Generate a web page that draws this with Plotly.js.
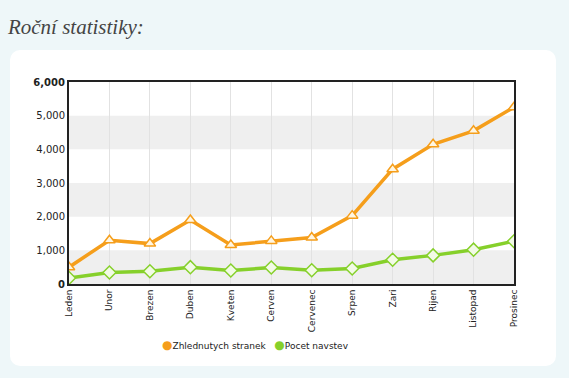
<!DOCTYPE html>
<html><head><meta charset="utf-8">
<script src="https://cdn.plot.ly/plotly-3.0.1.min.js"></script>
<style>
html,body{margin:0;padding:0;background:#eef7f9;width:569px;height:378px;overflow:hidden}
#panel{position:absolute;left:10px;top:50px;width:546px;height:316px;background:#fff;border-radius:10px}
#chart{position:absolute;left:0;top:0;width:569px;height:378px}
</style></head><body>
<div id="panel"></div>
<div id="chart"></div>
<script>
const months = ["Leden","Unor","Brezen","Duben","Kveten","Cerven","Cervenec","Srpen","Zari","Rijen","Listopad","Prosinec"];
const pageViews = [500,1300,1200,1900,1160,1280,1380,2030,3410,4150,4550,5250];
const visits = [180,340,380,500,400,490,410,460,720,850,1020,1270];
const seriesNames = ["Zhlednutych stranek","Pocet navstev"];
const yTicks = [0,1000,2000,3000,4000,5000,6000];
const yTickText = ["<b>0</b>","1,000","2,000","3,000","4,000","5,000","<b>6,000</b>"];
const bandStarts = [0,2000,4000];

const orange = "#f59e1b", green = "#86d02b";
const colors = [orange, green];
const idx = months.map((_, i) => i);

const traces = [
  {x: idx, y: pageViews, name: seriesNames[0], mode: "lines+markers", showlegend: false, hoverinfo: "skip",
   line: {color: orange, width: 3.5},
   marker: {symbol: "triangle-up", size: 10, color: "#fff6e2", line: {color: orange, width: 1.5}}},
  {x: idx, y: visits, name: seriesNames[1], mode: "lines+markers", showlegend: false, hoverinfo: "skip",
   line: {color: green, width: 3.5},
   marker: {symbol: "diamond", size: 10, color: "#f2fae6", line: {color: green, width: 1.5}}}
];

const shapes = bandStarts.map(b => ({type: "rect", xref: "paper", yref: "y", x0: 0, x1: 1, y0: b, y1: b + 1000,
  fillcolor: "#efefef", line: {width: 0}, layer: "below"}));

const legendText = seriesNames.map((n, i) =>
  '<span style="color:' + colors[i] + ';font-size:12px">●</span>' + n).join("&nbsp;&nbsp;&nbsp;");

const layout = {
  width: 569, height: 378,
  paper_bgcolor: "rgba(0,0,0,0)", plot_bgcolor: "rgba(0,0,0,0)",
  margin: {l: 69, r: 55, t: 82, b: 94},
  title: {text: "<i>Roční statistiky:</i>", font: {family: "Liberation Serif, DejaVu Serif, serif", size: 21, color: "#444"},
          xref: "container", yref: "container", x: 0.014, xanchor: "left", y: 0.93, yanchor: "middle"},
  xaxis: {range: [0, 11], tickvals: idx, ticktext: months, tickangle: -90,
          showgrid: true, gridcolor: "#e2e2e2", gridwidth: 1, zeroline: false,
          showline: true, linecolor: "#222", linewidth: 2, mirror: true,
          ticks: "", tickfont: {family: "DejaVu Sans, sans-serif", size: 9, color: "#222"}},
  yaxis: {range: [0, 6000], tickvals: yTicks, ticktext: yTickText, showgrid: false, zeroline: false,
          showline: true, linecolor: "#222", linewidth: 2, mirror: true,
          ticks: "", ticklen: 0, tickfont: {family: "DejaVu Sans, sans-serif", size: 10, color: "#222"}},
  annotations: [{xref: "paper", yref: "paper", x: 0.418, y: -0.30, xanchor: "center", yanchor: "middle",
                 showarrow: false, text: legendText,
                 font: {family: "DejaVu Sans, sans-serif", size: 9, color: "#222"}}],
  shapes: shapes,
  showlegend: false
};

Plotly.newPlot("chart", traces, layout, {staticPlot: true, displayModeBar: false});
</script>
</body></html>
